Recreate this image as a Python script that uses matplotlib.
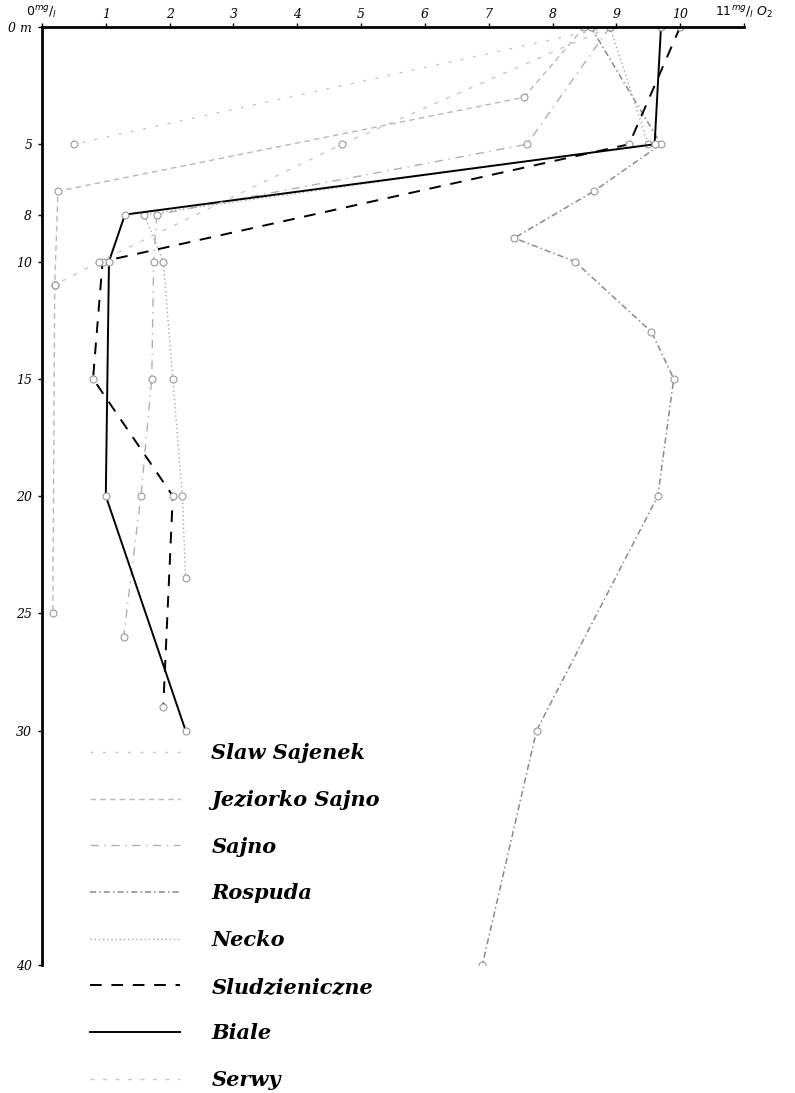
import matplotlib
matplotlib.use("Agg")
import copy
import matplotlib.pyplot as plt

# depth (m) and dissolved oxygen (mg/l O2)
slaw_depth = [0, 5]
slaw_o2 = [8.9, 0.5]

jeziorko_depth = [0, 3, 7, 11, 25]
jeziorko_o2 = [8.5, 7.55, 0.25, 0.2, 0.17]

sajno_depth = [0, 5, 8, 10, 15, 20, 26]
sajno_o2 = [8.9, 7.6, 1.8, 1.75, 1.72, 1.55, 1.28]

rospuda_depth = [0, 5, 7, 9, 10, 13, 15, 20, 30, 40]
rospuda_o2 = [8.6, 9.7, 8.65, 7.4, 8.35, 9.55, 9.9, 9.65, 7.75, 6.9]

necko_depth = [0, 5, 8, 10, 15, 20, 23.5]
necko_o2 = [8.9, 9.5, 1.6, 1.9, 2.05, 2.2, 2.25]

sludz_depth = [0, 5, 10, 15, 20, 29]
sludz_o2 = [10.0, 9.2, 0.95, 0.8, 2.05, 1.9]

biale_depth = [0, 5, 8, 10, 20, 30]
biale_o2 = [9.7, 9.6, 1.3, 1.05, 1.0, 2.25]

serwy_depth = [0, 5, 10, 11]
serwy_o2 = [8.9, 4.7, 0.9, 0.2]

x_ticks = list(range(0, 12))
x_labels = [r"$0^{mg}/_{l}$"] + [str(i) for i in range(1, 11)] + [r"$11^{mg}/_{l}\ O_2$"]
y_ticks = [0, 5, 8, 10, 15, 20, 25, 30, 40]
y_labels = ["0 m"] + [str(d) for d in y_ticks[1:]]

series = [
    ("Slaw Sajenek", slaw_o2, slaw_depth, dict(color="#c4c4c4", lw=1.0, ls=(0, (2, 7)))),
    ("Jeziorko Sajno", jeziorko_o2, jeziorko_depth, dict(color="#b8b8b8", lw=1.0, ls=(0, (4, 3)))),
    ("Sajno", sajno_o2, sajno_depth, dict(color="#b0b0b0", lw=1.0, ls=(0, (6, 4, 1, 4)))),
    ("Rospuda", rospuda_o2, rospuda_depth, dict(color="#8a8a8a", lw=1.1, ls=(0, (4, 2, 1, 2)))),
    ("Necko", necko_o2, necko_depth, dict(color="#a8a8a8", lw=1.0, ls=(0, (1, 2)))),
    ("Sludzieniczne", sludz_o2, sludz_depth, dict(color="black", lw=1.4, ls=(0, (6, 5)))),
    ("Biale", biale_o2, biale_depth, dict(color="black", lw=1.4, ls="-")),
    ("Serwy", serwy_o2, serwy_depth, dict(color="#c8c8c8", lw=1.0, ls=(0, (3, 6)))),
]

fig = plt.figure(figsize=(7.95, 10.93), dpi=100)
ax = fig.add_axes([0.0528, 0.1171, 0.883, 0.8582])

handles = []
for name, o2, depth, st in series:
    ln, = ax.plot(o2, depth, label=name, marker="o", ms=5, mfc="white",
                  mec="#999999", mew=0.8, **st)
    handles.append(ln)

ax.set_xlim(0, 11)
ax.set_ylim(40, 0)

for s in ["right", "bottom"]:
    ax.spines[s].set_visible(False)
for s in ["top", "left"]:
    ax.spines[s].set_linewidth(2)

ax.xaxis.tick_top()
ax.set_xticks(x_ticks)
ax.set_xticklabels(x_labels, fontsize=9, family="DejaVu Serif", style="italic")
ax.set_yticks(y_ticks)
ax.set_yticklabels(y_labels, fontsize=9, family="DejaVu Serif", style="italic")
ax.tick_params(axis="x", length=3, width=1, pad=1)
ax.tick_params(axis="y", length=3, width=1, pad=4)

# legend handles without markers
leg_handles = []
for h in handles:
    h2 = copy.copy(h)
    h2.set_marker("")
    leg_handles.append(h2)

leg = fig.legend(leg_handles, [s[0] for s in series], loc="upper left",
                 bbox_to_anchor=(80 / 795, 1 - 733 / 1093), frameon=False,
                 borderpad=0, handlelength=4.3, handletextpad=1.5,
                 labelspacing=1.28,
                 prop=dict(family="DejaVu Serif", style="italic", weight="bold", size=15))

fig.savefig("out.png", dpi=100)
